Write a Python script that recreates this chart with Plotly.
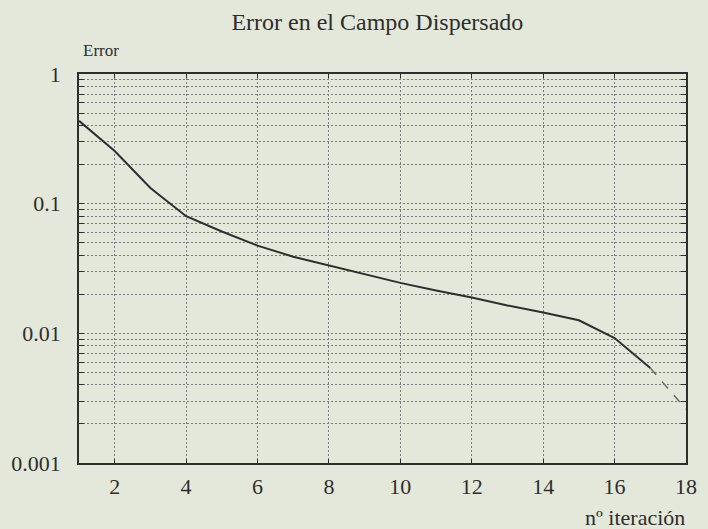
import plotly.graph_objects as go

iterations = [1, 2, 3, 4, 5, 6, 7, 8, 9, 10, 11, 12, 13, 14, 15, 16, 17]
error = [0.435, 0.255, 0.132, 0.080, 0.061, 0.0475, 0.039, 0.0333, 0.0284,
         0.0245, 0.0214, 0.0189, 0.0164, 0.0145, 0.0126, 0.0092, 0.0054]
tail_x = [17, 18]
tail_y = [0.0054, 0.0026]

x_ticks = [2, 4, 6, 8, 10, 12, 14, 16, 18]
y_decades = [0.001, 0.01, 0.1, 1]
y_labels = ["0.001", "0.01", "0.1", "1"]

y_vals = []
y_text = []
for d, lab in zip(y_decades, y_labels):
    y_vals.append(d)
    y_text.append(lab)
    if d < 1:
        for m in range(2, 10):
            y_vals.append(d * m)
            y_text.append("")

bg = "#e3e8da"
ink = "#2e2e2e"
grid = "#7a7a7a"
font = "Liberation Serif, Times New Roman, serif"

fig = go.Figure()
fig.add_trace(go.Scatter(x=iterations, y=error, mode="lines",
                         line=dict(color=ink, width=2), showlegend=False))
fig.add_trace(go.Scatter(x=tail_x, y=tail_y, mode="lines",
                         line=dict(color="#6a6a6a", width=1.5, dash="dash"),
                         showlegend=False))

fig.update_layout(
    width=708, height=529,
    paper_bgcolor=bg, plot_bgcolor=bg,
    margin=dict(l=72, r=11, t=74, b=66),
    font=dict(family=font, size=22, color=ink),
    title=dict(text="Error en el Campo Dispersado", x=0.533, xanchor="center",
               y=0.959, yanchor="middle", font=dict(family=font, size=24, color=ink)),
    annotations=[
        dict(text="Error", xref="paper", yref="paper", x=0.0, y=1.0,
             xanchor="left", yanchor="bottom", yshift=12, xshift=2, showarrow=False,
             font=dict(family=font, size=17, color=ink)),
        dict(text="nº iteración", xref="paper", yref="paper", x=1.0, y=0.0,
             xanchor="right", yanchor="top", xshift=1, yshift=-40, showarrow=False,
             font=dict(family=font, size=22, color=ink)),
    ],
)
fig.update_xaxes(range=[1, 18], tickvals=x_ticks, ticks="inside", ticklen=4,
                 tickcolor=ink, showline=True, linecolor=ink, linewidth=1.5,
                 mirror="ticks", showgrid=True, gridcolor=grid, griddash="2px,2px",
                 gridwidth=1, zeroline=False, ticklabelstandoff=3)
fig.update_yaxes(type="log", range=[-3, 0], tickvals=y_vals, ticktext=y_text,
                 ticks="inside", ticklen=5, tickcolor=ink, showline=True,
                 linecolor=ink, linewidth=1.5, mirror="ticks", showgrid=True,
                 gridcolor=grid, griddash="2px,2px", gridwidth=1,
                 zeroline=False, ticklabelstandoff=12)

fig.write_html(
    "out.html",
    config={"displayModeBar": False},
    post_script="document.body.style.margin='0';"
                "document.body.style.background='%s';" % bg,
)
